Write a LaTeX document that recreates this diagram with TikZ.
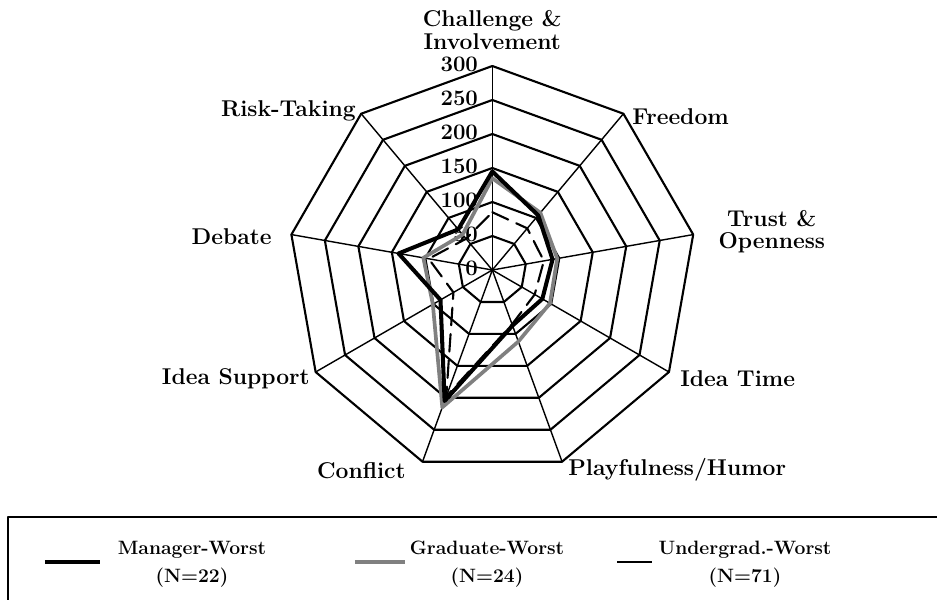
\documentclass[tikz,border=0pt]{standalone}
\usetikzlibrary{positioning}
\begin{document}
\begin{tikzpicture}[line join=round, line cap=round, font=\fontsize{13}{12.6}\selectfont\bfseries,
		ring/.style={line width=1.2pt},
		spoke/.style={line width=.8pt},
		lab/.style={inner sep=0pt},
		tick/.style={inner sep=0pt, anchor=east, font=\fontsize{12.6}{13}\selectfont\bfseries},
		legtext/.style={inner sep=0pt, align=center, font=\fontsize{11}{16}\selectfont\bfseries},
		mgr/.style={line width=2.3pt, black},
		grad/.style={line width=2.1pt, black!50},
		ugrad/.style={line width=1.2pt, black, dash pattern=on 10pt off 5pt}]
					\useasboundingbox (-9.846,-6.58) rectangle (8.894,5.4);
					\foreach \r in {1,...,6}{
						\draw[ring] (90:{\r*0.68}) \foreach \k in {1,...,8}{ -- ({90-40*\k}:{\r*0.68})} -- cycle;
					}
					\foreach \k in {0,...,8}{
						\draw[spoke] (0,0) coordinate (o) -- ({90-40*\k}:4.08) coordinate (v\k);
					}
					\foreach \t [count=\i from 0] in {0,50,100,150,200,250,300}{
						\node[tick] (t\t) at (-0.28,{\i*0.68+0.04}) {\t};
					}
					\path 
					(v0) node[lab, above=.33 of v0, align=center] (l0) {Challenge \&\\Involvement}
					(v1) node[lab, anchor=west] (l1) at ([shift={(.17,-.05)}]v1) {Freedom}
					(v2) node[lab, anchor=west, align=center] (l2) at ([shift={(.5,.05)}]v2) {Trust \&\\Openness}
					(v3) node[lab, anchor=west] (l3) at ([shift={(.22,-.14)}]v3) {Idea Time}
					(v4) node[lab, anchor=west] (l4) at ([shift={(.12,-.17)}]v4) {Playfulness/Humor}
					(v5) node[lab, anchor=east] (l5) at ([shift={(-.33,-.17)}]v5) {Conflict}
					(v6) node[lab, anchor=east] (l6) at ([shift={(-.11,-.14)}]v6) {Idea Support}
					(v7) node[lab, anchor=east] (l7) at ([shift={(-.39,-.04)}]v7) {Debate}
					(v8) node[lab, anchor=east] (l8) at ([shift={(-.1,.05)}]v8) {Risk-Taking}
					;
					\foreach \v [count=\k from 0] in {145,105,90,85,87,205,88,140,78}{
						\coordinate (m\k) at ({90-40*\k}:{\v*0.0136});
					}
					\foreach \v [count=\k from 0] in {135,110,97,98,112,215,101,103,68}{
						\coordinate (g\k) at ({90-40*\k}:{\v*0.0136});
					}
					\foreach \v [count=\k from 0] in {85,80,77,72,85,198,66,95,60}{
						\coordinate (u\k) at ({90-40*\k}:{\v*0.0136});
					}
					\draw[ugrad] (u0)--(u1)--(u2)--(u3)--(u4)--(u5)--(u6)--(u7)--(u8)--cycle;
					\draw[grad] (g0)--(g1)--(g2)--(g3)--(g4)--(g5)--(g6)--(g7)--(g8)--cycle;
					\draw[mgr] (m0)--(m1)--(m2)--(m3)--(m4)--(m5)--(m6)--(m7)--(m8)--cycle;
					\draw[line width=1.3pt] (-9.686,-4.94) coordinate (bx1) rectangle (9.2,-6.8) coordinate (bx2);
					\path
					(-8.946,-5.84) coordinate (ms1) (-7.846,-5.84) coordinate (ms2)
					(-2.746,-5.84) coordinate (gs1) (-1.746,-5.84) coordinate (gs2)
					(2.494,-5.84) coordinate (us1) (3.194,-5.84) coordinate (us2)
					(-6.006,-5.88) node[legtext] (mt) {Manager-Worst\\(N=22)}
					(-0.106,-5.88) node[legtext] (gt) {Graduate-Worst\\(N=24)}
					(5.054,-5.88) node[legtext] (ut) {Undergrad.-Worst\\(N=71)}
					;
					\draw[mgr, line width=2.8pt, line cap=butt] (ms1)--(ms2);
					\draw[grad, line width=2.8pt, line cap=butt] (gs1)--(gs2);
					\draw[line width=1.6pt, line cap=butt] (us1)--(us2);
				\end{tikzpicture}
\end{document}
